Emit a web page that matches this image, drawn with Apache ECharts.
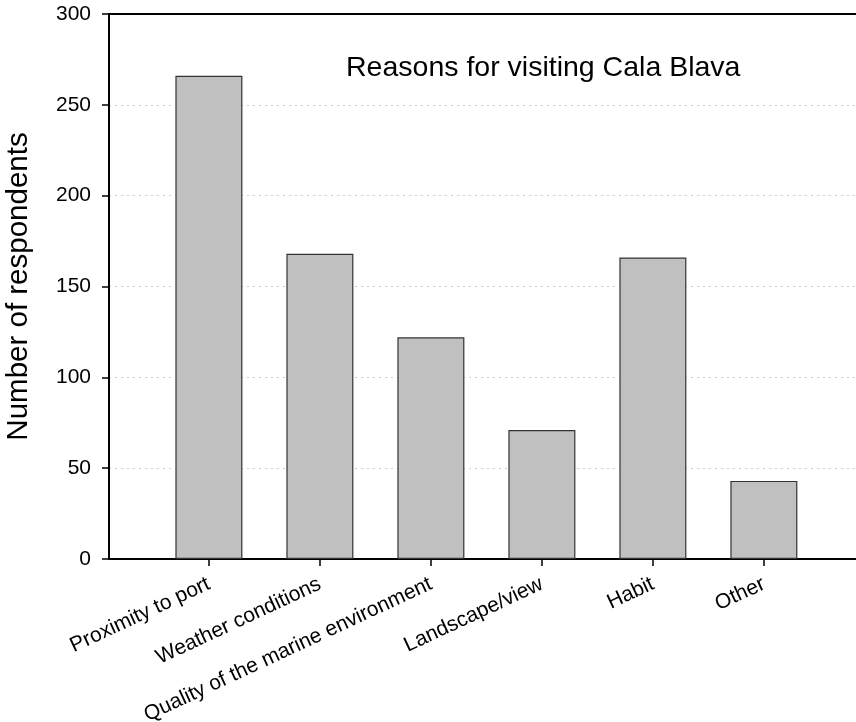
<!DOCTYPE html>
<html>
<head>
<meta charset="utf-8">
<script src="https://cdn.jsdelivr.net/npm/echarts@6/dist/echarts.min.js"></script>
<style>
  html, body { margin: 0; padding: 0; background: #fff; }
  #chart { width: 856px; height: 722px; }
</style>
</head>
<body>
<div id="chart"></div>
<script>
// Survey answers: reasons given for visiting Cala Blava
const categories = [
  'Proximity to port',
  'Weather conditions',
  'Quality of the marine environment',
  'Landscape/view',
  'Habit',
  'Other'
];
const respondents = [266, 168, 122, 71, 166, 43];
const yTicks = [0, 50, 100, 150, 200, 250, 300];

// categories sit at x = 1..6 on a numeric axis so the frame can extend past them
const positions = categories.map((_, i) => i + 1);
const barData = positions.map((x, i) => [x, respondents[i]]);

const FONT = '"Liberation Sans", Arial, sans-serif';
const chart = echarts.init(document.getElementById('chart'), null, { renderer: 'canvas' });

chart.setOption({
  animation: false,
  backgroundColor: '#ffffff',
  textStyle: { fontFamily: FONT },
  title: {
    text: 'Reasons for visiting Cala Blava',
    left: 346,
    top: 54,
    padding: 0,
    textStyle: { fontFamily: FONT, fontSize: 28.5, fontWeight: 'normal', color: '#000' }
  },
  grid: {
    left: 109, right: 0, top: 14, bottom: 163,
    containLabel: false,
    outerBoundsMode: 'none'
  },
  xAxis: [
    {
      type: 'value',
      min: 0.1,
      max: 6.83,
      position: 'bottom',
      axisLine: { show: true, onZero: false, lineStyle: { color: '#000', width: 2 } },
      axisTick: {
        show: true,
        customValues: positions,
        length: 7,
        lineStyle: { color: '#000', width: 1.5 }
      },
      axisLabel: {
        show: true,
        customValues: positions,
        rotate: 25,
        margin: 24,
        fontSize: 21,
        color: '#000',
        fontFamily: FONT,
        formatter: v => categories[Math.round(v) - 1] || ''
      },
      splitLine: { show: false }
    },
    {
      type: 'value',
      min: 0.1,
      max: 6.83,
      position: 'top',
      axisLine: { show: true, onZero: false, lineStyle: { color: '#000', width: 2 } },
      axisTick: { show: false },
      axisLabel: { show: false },
      splitLine: { show: false }
    }
  ],
  yAxis: {
    type: 'value',
    min: yTicks[0],
    max: yTicks[yTicks.length - 1],
    interval: 50,
    name: 'Number of respondents',
    nameLocation: 'middle',
    nameGap: 75,
    nameTextStyle: { fontFamily: FONT, fontSize: 29.5, color: '#000' },
    axisLine: { show: true, lineStyle: { color: '#000', width: 2 } },
    axisTick: { show: true, length: 7, lineStyle: { color: '#000', width: 1.5 } },
    axisLabel: { fontSize: 21, color: '#000', margin: 18, fontFamily: FONT },
    splitLine: {
      show: true,
      showMaxLine: false,
      showMinLine: false,
      lineStyle: { color: '#cccccc', type: [2, 4], width: 1 }
    }
  },
  series: [{
    type: 'bar',
    xAxisIndex: 0,
    data: barData,
    barWidth: 67,
    itemStyle: { color: '#c0c0c0', borderColor: '#333333', borderWidth: 1.2 }
  }]
});
</script>
</body>
</html>
